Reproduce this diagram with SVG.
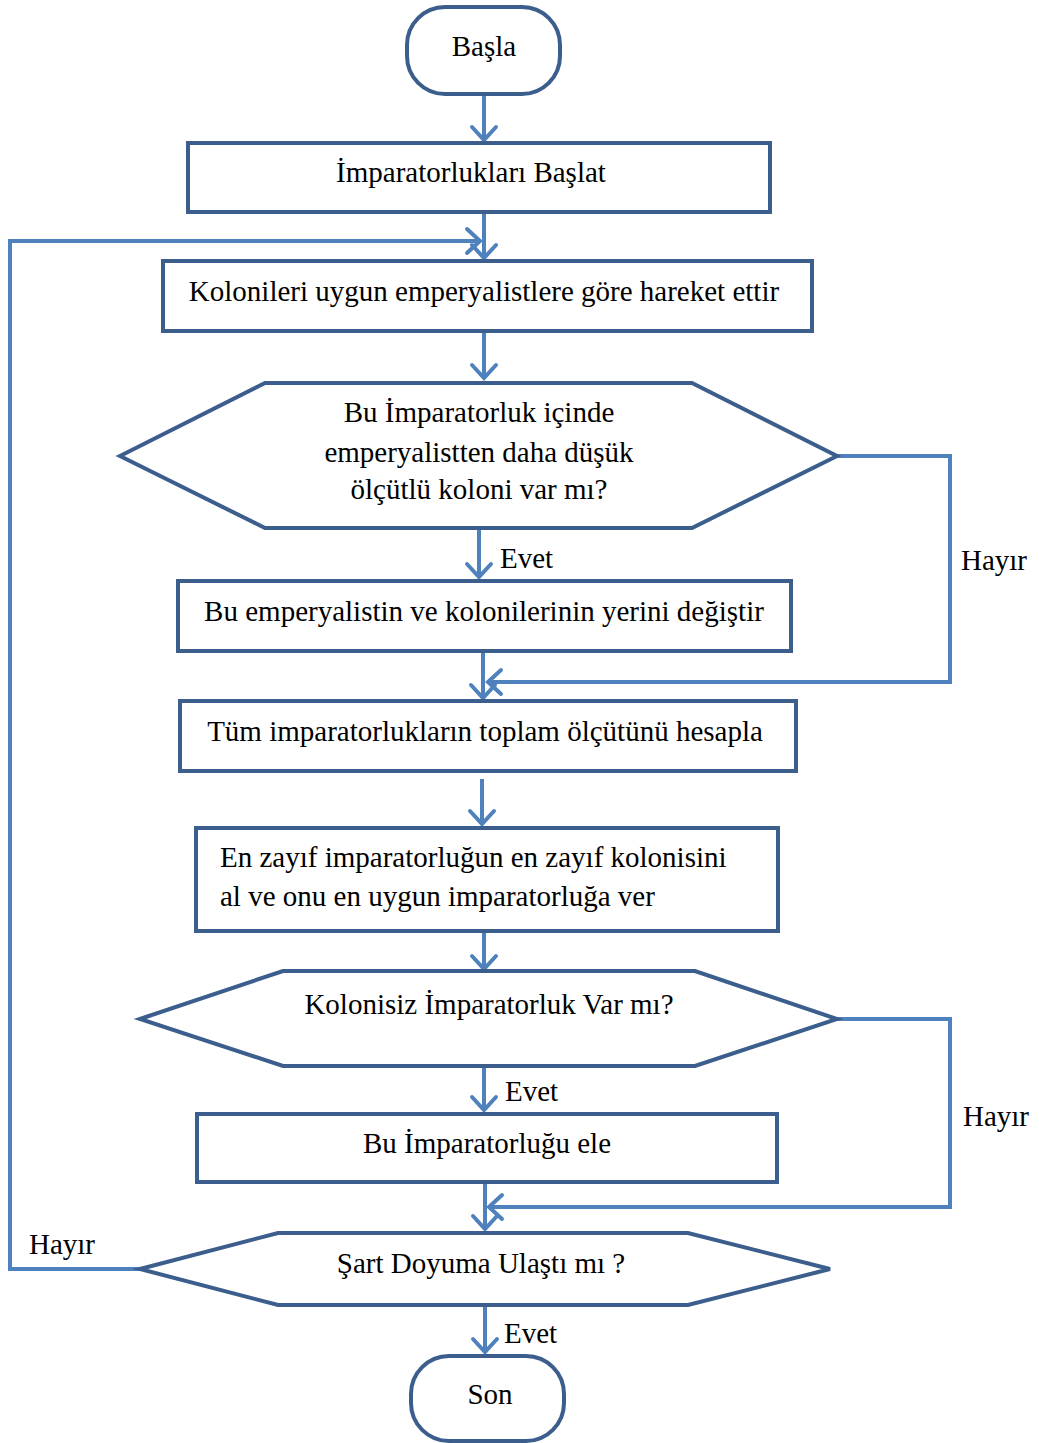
<svg xmlns="http://www.w3.org/2000/svg" width="1039" height="1443" viewBox="0 0 1039 1443">
  <style>
    .node { fill: #ffffff; stroke: #3B5E8C; stroke-width: 4; stroke-linejoin: miter; }
    .conn { fill: none; stroke: #4F81BD; stroke-width: 4; }
    .t { font-family: "Liberation Serif", "Times New Roman", serif; font-size: 29px; fill: #000000; }
    .c { text-anchor: middle; }
  </style>
  <defs>
    <marker id="arrow" markerUnits="userSpaceOnUse" markerWidth="30" markerHeight="30" viewBox="-20 -15 30 30" refX="0" refY="0" orient="auto">
      <path d="M-13,-12 L0,0 L-13,12" fill="none" stroke="#4F81BD" stroke-width="4" stroke-linecap="round"/>
    </marker>
  </defs>

  <!-- connectors -->
  <g id="connectors" class="conn">
    <line x1="484" y1="94" x2="484" y2="140" marker-end="url(#arrow)"/>
    <line x1="484" y1="212" x2="484" y2="258" marker-end="url(#arrow)"/>
    <polyline points="140,1269 10,1269 10,241 480,241" marker-end="url(#arrow)"/>
    <line x1="484" y1="331" x2="484" y2="378" marker-end="url(#arrow)"/>
    <line x1="479" y1="528" x2="479" y2="577" marker-end="url(#arrow)"/>
    <polyline points="837,456 950,456 950,682 488,682" marker-end="url(#arrow)"/>
    <line x1="483" y1="651" x2="483" y2="698" marker-end="url(#arrow)"/>
    <line x1="482" y1="779" x2="482" y2="824" marker-end="url(#arrow)"/>
    <line x1="484" y1="931" x2="484" y2="969" marker-end="url(#arrow)"/>
    <line x1="484" y1="1066" x2="484" y2="1110" marker-end="url(#arrow)"/>
    <polyline points="837,1019 950,1019 950,1207 489,1207" marker-end="url(#arrow)"/>
    <line x1="485" y1="1182" x2="485" y2="1229" marker-end="url(#arrow)"/>
    <line x1="485" y1="1305" x2="485" y2="1352" marker-end="url(#arrow)"/>
  </g>

  <!-- edge labels -->
  <g id="labels">
    <text class="t" x="500" y="568">Evet</text>
    <text class="t" x="961" y="570">Hayır</text>
    <text class="t" x="505" y="1101">Evet</text>
    <text class="t" x="963" y="1126">Hayır</text>
    <text class="t" x="29" y="1254">Hayır</text>
    <text class="t" x="504" y="1343">Evet</text>
  </g>

  <g id="start">
    <rect class="node" x="407" y="7" width="153" height="87" rx="38" ry="38"/>
    <text class="t c" x="484" y="56">Başla</text>
  </g>

  <g id="init">
    <rect class="node" x="188" y="143" width="582" height="69"/>
    <text class="t c" x="471" y="182">İmparatorlukları Başlat</text>
  </g>

  <g id="move">
    <rect class="node" x="163" y="261" width="649" height="70"/>
    <text class="t c" x="484" y="301">Kolonileri uygun emperyalistlere göre hareket ettir</text>
  </g>

  <g id="check-colony">
    <polygon class="node" points="120,456 265,383 692,383 837,456 692,528 265,528"/>
    <text class="t c" x="479" y="422">Bu İmparatorluk içinde</text>
    <text class="t c" x="479" y="462">emperyalistten daha düşük</text>
    <text class="t c" x="479" y="499">ölçütlü koloni var mı?</text>
  </g>

  <g id="swap">
    <rect class="node" x="178" y="581" width="613" height="70"/>
    <text class="t c" x="484" y="621">Bu emperyalistin ve kolonilerinin yerini değiştir</text>
  </g>

  <g id="total">
    <rect class="node" x="180" y="701" width="616" height="70"/>
    <text class="t c" x="485" y="741">Tüm imparatorlukların toplam ölçütünü hesapla</text>
  </g>

  <g id="compete">
    <rect class="node" x="196" y="828" width="582" height="103"/>
    <text class="t" x="220" y="867">En zayıf imparatorluğun en zayıf kolonisini</text>
    <text class="t" x="220" y="906">al ve onu en uygun imparatorluğa ver</text>
  </g>

  <g id="check-empty">
    <polygon class="node" points="140,1019 283,971 695,971 837,1019 695,1066 283,1066"/>
    <text class="t c" x="489" y="1014">Kolonisiz İmparatorluk Var mı?</text>
  </g>

  <g id="eliminate">
    <rect class="node" x="197" y="1114" width="580" height="68"/>
    <text class="t c" x="487" y="1153">Bu İmparatorluğu ele</text>
  </g>

  <g id="check-stop">
    <polygon class="node" points="140,1269 278,1233 688,1233 830,1269 688,1305 278,1305"/>
    <text class="t c" x="481" y="1273">Şart Doyuma Ulaştı mı ?</text>
  </g>

  <g id="end">
    <rect class="node" x="411" y="1356" width="153" height="85" rx="38" ry="38"/>
    <text class="t c" x="490" y="1404">Son</text>
  </g>
</svg>
